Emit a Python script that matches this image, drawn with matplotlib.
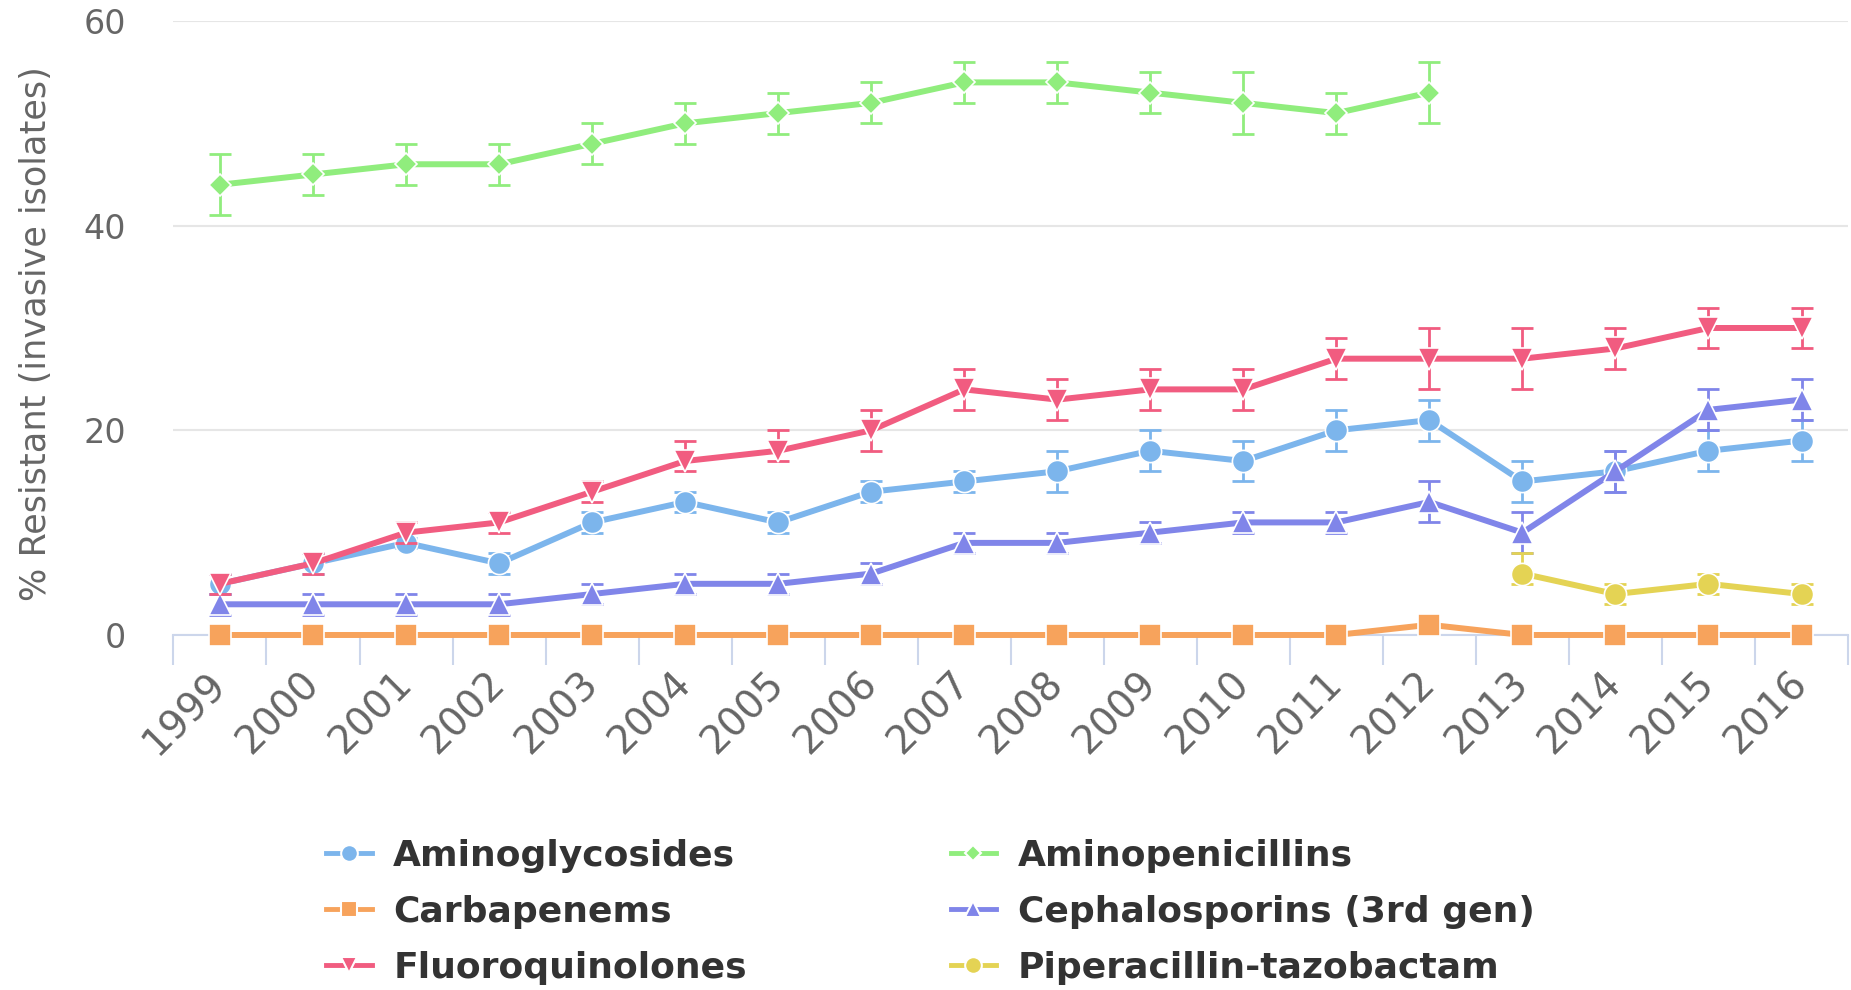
import numpy as np
import matplotlib
matplotlib.use('Agg')
import matplotlib.pyplot as plt
from matplotlib.lines import Line2D

years = [str(y) for y in range(1999, 2017)]

aminoglycosides = [5, 7, 9, 7, 11, 13, 11, 14, 15, 16, 18, 17, 20, 21, 15, 16, 18, 19]
aminoglycosides_lo = [4, 6, 8.5, 6, 10, 12, 10, 13, 14, 14, 16, 15, 18, 19, 13, 14, 16, 17]
aminoglycosides_hi = [6, 8, 9.5, 8, 12, 14, 12, 15, 16, 18, 20, 19, 22, 23, 17, 18, 20, 21]

# reported only up to 2012
aminopenicillins = [44, 45, 46, 46, 48, 50, 51, 52, 54, 54, 53, 52, 51, 53]
aminopenicillins_lo = [41, 43, 44, 44, 46, 48, 49, 50, 52, 52, 51, 49, 49, 50]
aminopenicillins_hi = [47, 47, 48, 48, 50, 52, 53, 54, 56, 56, 55, 55, 53, 56]

carbapenems = [0, 0, 0, 0, 0, 0, 0, 0, 0, 0, 0, 0, 0, 1, 0, 0, 0, 0]

cephalosporins = [3, 3, 3, 3, 4, 5, 5, 6, 9, 9, 10, 11, 11, 13, 10, 16, 22, 23]
cephalosporins_lo = [2, 2, 2, 2, 3, 4, 4, 5, 8, 8, 9, 10, 10, 11, 8, 14, 20, 21]
cephalosporins_hi = [4, 4, 4, 4, 5, 6, 6, 7, 10, 10, 11, 12, 12, 15, 12, 18, 24, 25]

fluoroquinolones = [5, 7, 10, 11, 14, 17, 18, 20, 24, 23, 24, 24, 27, 27, 27, 28, 30, 30]
fluoroquinolones_lo = [4, 6, 9, 10, 13, 16, 17, 18, 22, 21, 22, 22, 25, 24, 24, 26, 28, 28]
fluoroquinolones_hi = [6, 8, 11, 12, 15, 19, 20, 22, 26, 25, 26, 26, 29, 30, 30, 30, 32, 32]

# reported from 2013 on
pip_tazo = [6, 4, 5, 4]
pip_tazo_lo = [5, 3, 4, 3]
pip_tazo_hi = [8, 5, 6, 5]

series = [
    ('Aminoglycosides', 0, aminoglycosides, aminoglycosides_lo, aminoglycosides_hi, '#7cb5ec', 'o', 1.0),
    ('Aminopenicillins', 0, aminopenicillins, aminopenicillins_lo, aminopenicillins_hi, '#90ed7d', 'D', 0.72),
    ('Carbapenems', 0, carbapenems, None, None, '#f7a35c', 's', 0.95),
    ('Cephalosporins (3rd gen)', 0, cephalosporins, cephalosporins_lo, cephalosporins_hi, '#8085e9', '^', 1.0),
    ('Fluoroquinolones', 0, fluoroquinolones, fluoroquinolones_lo, fluoroquinolones_hi, '#f15c80', 'v', 1.0),
    ('Piperacillin-tazobactam', 14, pip_tazo, pip_tazo_lo, pip_tazo_hi, '#e4d354', 'o', 1.0),
]

fig = plt.figure(figsize=(18.51, 9.9), dpi=100)
ax = fig.add_axes([0.0937, 0.3586, 0.9047, 0.6202])

ms = 16
handles = []
for i, (name, start, vals, lo, hi, col, mk, scale) in enumerate(series):
    x = np.arange(start, start + len(vals))
    v = np.array(vals, dtype=float)
    if lo is not None:
        err = [v - np.array(lo), np.array(hi) - v]
        ax.errorbar(x, v, yerr=err, fmt='none', ecolor=col, elinewidth=2,
                    capsize=8, capthick=2, zorder=3 + i * 2, clip_on=False)
    ax.plot(x, v, color=col, lw=4.3, marker=mk, ms=ms * scale,
            markeredgewidth=1.2, markeredgecolor='white', zorder=4 + i * 2,
            clip_on=False, solid_capstyle='round')
    handles.append(Line2D([], [], color=col, lw=3.5, marker=mk,
                          ms=12 * scale, markeredgewidth=1.5,
                          markeredgecolor='white'))

ax.set_xlim(-0.5, 17.5)
ax.set_ylim(0, 60)

ax.set_yticks([0, 20, 40, 60])
ax.yaxis.grid(True, color='#e6e6e6', lw=1.5)
ax.set_axisbelow(True)
ax.tick_params(axis='y', length=0, pad=34, labelsize=24, labelcolor='#666666')

ax.set_xticks(np.arange(len(years)))
ax.set_xticklabels(years, rotation=45, ha='right', va='center',
                   rotation_mode='anchor')
ax.set_xticks(np.arange(-0.5, 18, 1), minor=True)
ax.tick_params(axis='x', which='major', length=0, pad=31, labelsize=28,
               labelcolor='#666666')
ax.tick_params(axis='x', which='minor', length=21.6, width=1.5,
               color='#ccd6eb', direction='out')

for s in ['top', 'right', 'left']:
    ax.spines[s].set_visible(False)
ax.spines['bottom'].set_color('#ccd6eb')
ax.spines['bottom'].set_linewidth(1.5)

fig.text(36 / 1851, 1 - 334 / 990, '% Resistant (invasive isolates)',
         rotation=90, ha='center', va='center', fontsize=25.3, color='#666666')

order = [0, 2, 4, 1, 3, 5]
leg = fig.legend([handles[k] for k in order], [series[k][0] for k in order],
                 ncol=2, loc='center', bbox_to_anchor=(0.5026, 0.0788),
                 frameon=False, handlelength=1.27, handletextpad=0.59,
                 columnspacing=5.64, labelspacing=0.61,
                 prop={'weight': 'bold', 'size': 26})
for t in leg.get_texts():
    t.set_color('#333333')

fig.savefig('out.png', dpi=100, facecolor='white')
